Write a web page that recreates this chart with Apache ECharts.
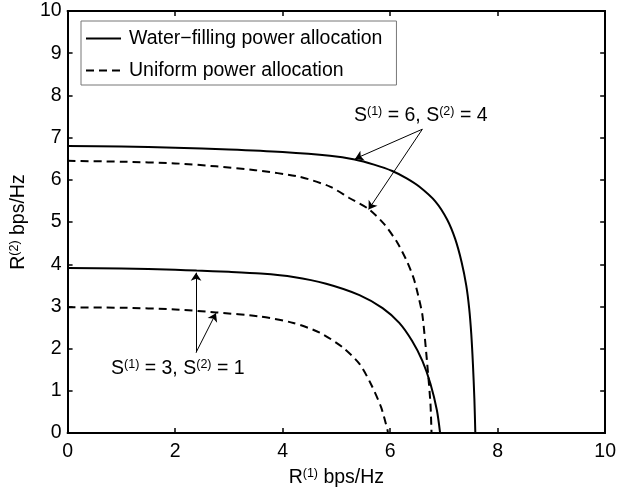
<!DOCTYPE html>
<html>
<head>
<meta charset="utf-8">
<script src="https://cdn.jsdelivr.net/npm/echarts@6/dist/echarts.min.js"></script>
<style>
html,body{margin:0;padding:0;background:#fff;}
#main{width:619px;height:493px;}
</style>
</head>
<body>
<div id="main"></div>
<script>
// ---- data ----
const wfOuterX = [0, 1, 2, 3, 4, 4.88, 5.34, 5.7, 6.04, 6.3, 6.54, 6.84, 7.06, 7.21, 7.33, 7.416, 7.47, 7.51, 7.54, 7.567, 7.585];
const wfOuterY = [6.80, 6.79, 6.76, 6.72, 6.66, 6.57, 6.48, 6.36, 6.21, 6.04, 5.84, 5.49, 5.06, 4.60, 4.05, 3.50, 2.96, 2.34, 1.64, 0.82, 0];
const ufOuterX = [0, 1, 2, 2.76, 3.49, 4.32, 4.88, 5.24, 5.61, 5.89, 6.13, 6.32, 6.44, 6.52, 6.60, 6.69, 6.75, 6.77];
const ufOuterY = [6.45, 6.43, 6.39, 6.32, 6.23, 6.07, 5.84, 5.57, 5.30, 4.95, 4.52, 4.05, 3.66, 3.27, 2.80, 1.64, 0.70, 0];
const wfInnerX = [0, 1, 2, 2.4, 3.0, 3.59, 4.2, 4.81, 5.43, 5.86, 6.17, 6.41, 6.60, 6.75, 6.87, 6.93];
const wfInnerY = [3.91, 3.90, 3.87, 3.85, 3.82, 3.78, 3.70, 3.54, 3.27, 2.96, 2.61, 2.18, 1.71, 1.17, 0.54, 0];
const ufInnerX = [0, 1, 2, 2.76, 3.59, 4.2, 4.69, 5.12, 5.43, 5.64, 5.83, 5.95, 5.96];
const ufInnerY = [2.98, 2.97, 2.93, 2.86, 2.76, 2.61, 2.38, 2.03, 1.64, 1.17, 0.62, 0.08, 0];
const seriesNames = ['Water\u2212filling power allocation', 'Uniform power allocation'];
const xTicks = [0, 2, 4, 6, 8, 10];
const yTicks = [0, 1, 2, 3, 4, 5, 6, 7, 8, 9, 10];
// annotation anchors (data space)
const arrowsTop = [[[6.60, 7.20], [5.35, 6.50]], [[6.60, 7.20], [5.60, 5.30]]];
const arrowsBottom = [[[2.39, 1.91], [2.39, 3.80]], [[2.39, 1.91], [2.76, 2.84]]];
const labelTop = { pos: [6.57, 7.52], text: '{n|S}{s|(1)}{n| = 6, S}{s|(2)}{n| = 4}' };
const labelBottom = { pos: [2.05, 1.52], text: '{n|S}{s|(1)}{n| = 3, S}{s|(2)}{n| = 1}' };

const zip = (xs, ys) => xs.map((x, i) => [x, ys[i]]);
const FONT = 'Liberation Sans, Arial, Helvetica, sans-serif';
const FS = 19.5;
const rich = {
  n: { fontSize: FS, fontFamily: FONT, color: '#000', lineHeight: 22 },
  s: { fontSize: 12.5, fontFamily: FONT, color: '#000', verticalAlign: 'top', lineHeight: 22 }
};

const chart = echarts.init(document.getElementById('main'), null, { renderer: 'canvas' });

const axisCommon = {
  type: 'value', min: 0, max: 10,
  axisLine: { show: true, onZero: false, lineStyle: { color: '#000', width: 2 } },
  axisTick: { show: true, inside: true, length: 5, lineStyle: { color: '#000', width: 1.5 } },
  splitLine: { show: false },
  axisLabel: { color: '#000', fontSize: FS, fontFamily: FONT }
};

const lineSolid = { color: '#000', width: 2, type: 'solid' };
const lineDash = { color: '#000', width: 2, type: [8, 5] };

function mkSeries(name, data, ls, extra) {
  return Object.assign({
    type: 'line', name: name, data: data, showSymbol: false, symbol: 'none',
    smooth: 0.25, lineStyle: ls, itemStyle: { color: '#000' },
    xAxisIndex: 0, yAxisIndex: 0, animation: false, silent: true, z: 3
  }, extra || {});
}

const arrowLines = arrowsTop.concat(arrowsBottom).map(a => [{ coord: a[0] }, { coord: a[1] }]);

const option = {
  backgroundColor: '#fff',
  animation: false,
  grid: { left: 65.5, right: 11, top: 11, bottom: 53, containLabel: false },
  legend: {
    data: [
      { name: seriesNames[0] },
      { name: seriesNames[1] }
    ],
    orient: 'vertical', left: 81, top: 21,
    itemWidth: 35, itemHeight: 14, itemGap: 11,
    padding: [7, 14, 4, 4],
    borderColor: '#777', borderWidth: 1, backgroundColor: '#fff',
    itemStyle: { opacity: 0 },
    textStyle: { color: '#000', fontSize: FS, fontFamily: FONT, lineHeight: 21, padding: [0, 0, 0, 3] },
    selectedMode: false
  },
  xAxis: [
    Object.assign({}, axisCommon, { position: 'bottom', interval: 2,
      axisLabel: Object.assign({}, axisCommon.axisLabel, { margin: 9 }),
      name: 'R{s|(1)} bps/Hz', nameLocation: 'middle', nameGap: 33,
      nameTextStyle: { color: '#000', fontSize: FS, fontFamily: FONT, rich: rich } }),
    Object.assign({}, axisCommon, { position: 'top', interval: 2, axisLabel: { show: false } })
  ],
  yAxis: [
    Object.assign({}, axisCommon, { position: 'left', interval: 1,
      axisLabel: Object.assign({}, axisCommon.axisLabel, { margin: 6 }),
      name: 'R{s|(2)} bps/Hz', nameLocation: 'middle', nameGap: 36, nameRotate: 90,
      nameTextStyle: { color: '#000', fontSize: FS, fontFamily: FONT, rich: rich } }),
    Object.assign({}, axisCommon, { position: 'right', interval: 1, axisLabel: { show: false } })
  ],
  series: [
    mkSeries(seriesNames[0], zip(wfOuterX, wfOuterY), lineSolid, {
      markLine: {
        silent: true, animation: false,
        symbol: ['none', 'arrow'], symbolSize: 8,
        label: { show: false },
        lineStyle: { color: '#000', width: 1, type: 'solid' },
        emphasis: { disabled: true },
        data: arrowLines
      },
      markPoint: {
        silent: true, animation: false,
        symbol: 'circle', symbolSize: 0,
        label: { show: true, position: 'inside', color: '#000', rich: rich,
          formatter: p => p.name === 'top' ? labelTop.text : labelBottom.text },
        data: [
          { name: 'top', coord: labelTop.pos },
          { name: 'bottom', coord: labelBottom.pos }
        ]
      }
    }),
    mkSeries(seriesNames[1], zip(ufOuterX, ufOuterY), lineDash),
    mkSeries(seriesNames[0], zip(wfInnerX, wfInnerY), lineSolid),
    mkSeries(seriesNames[1], zip(ufInnerX, ufInnerY), lineDash)
  ]
};
chart.setOption(option);
</script>
</body>
</html>
